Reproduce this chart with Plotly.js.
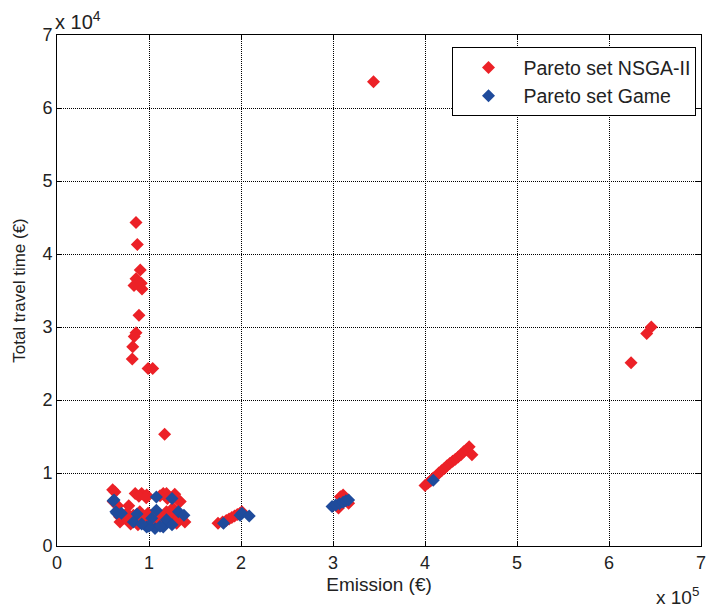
<!DOCTYPE html>
<html>
<head>
<meta charset="utf-8">
<script src="https://cdn.plot.ly/plotly-3.0.1.min.js"></script>
<style>html,body{margin:0;padding:0;background:#fff;}#chart{width:707px;height:612px;}</style>
</head>
<body>
<div id="chart"></div>
<script>
// Emission in units of 1e5 €, travel time in units of 1e4 €
const nsgaEmission = [3.44, 6.24, 6.41, 6.46,
  0.859, 0.873, 0.905, 0.859, 0.837, 0.916, 0.924, 0.891, 0.859, 0.84, 0.823, 0.818, 0.99, 1.04, 1.17,
  0.605, 0.63, 0.61, 0.85, 0.92, 0.975, 1.155, 1.19, 1.28, 1.34, 1.33,
  0.76, 0.90, 0.99, 1.10, 1.19, 1.27, 1.39, 0.685, 0.88, 1.30, 0.72, 0.80, 0.95, 1.02, 1.14, 1.22, 1.36, 0.66, 0.78, 1.05, 1.26,
  0.74, 0.83, 0.93, 1.00, 1.07, 1.16, 1.24, 1.33, 0.89, 0.97, 1.12, 1.20, 0.68, 1.31,
  1.75, 1.80, 1.84, 1.87, 1.90, 1.93, 1.96, 1.99, 2.01,
  3.06, 3.08, 3.11, 3.17,
  4.00, 4.03, 4.06, 4.09, 4.12, 4.15, 4.18, 4.21, 4.24, 4.27, 4.30, 4.33, 4.36, 4.39, 4.42, 4.45, 4.48, 4.51];
const nsgaTime = [6.36, 2.51, 2.91, 3.00,
  4.43, 4.13, 3.78, 3.66, 3.57, 3.60, 3.52, 3.16, 2.92, 2.87, 2.73, 2.56, 2.43, 2.43, 1.53,
  0.77, 0.74, 0.61, 0.72, 0.72, 0.70, 0.72, 0.72, 0.71, 0.61, 0.61,
  0.45, 0.47, 0.45, 0.40, 0.47, 0.40, 0.33, 0.33, 0.29, 0.31, 0.38, 0.30, 0.35, 0.32, 0.28, 0.36, 0.40, 0.55, 0.55, 0.30, 0.52,
  0.38, 0.42, 0.39, 0.36, 0.33, 0.42, 0.45, 0.40, 0.68, 0.66, 0.69, 0.65, 0.40, 0.35,
  0.31, 0.33, 0.35, 0.37, 0.39, 0.41, 0.43, 0.45, 0.47,
  0.52, 0.675, 0.70, 0.585,
  0.83, 0.86, 0.89, 0.93, 0.96, 1.00, 1.03, 1.06, 1.10, 1.13, 1.16, 1.19, 1.22, 1.25, 1.29, 1.32, 1.36, 1.25];

const gameEmission = [0.61, 0.62, 0.65, 0.64, 0.70, 0.87, 0.83, 1.08, 1.03, 1.32, 1.38, 0.975, 1.065, 1.155, 1.19, 1.25, 1.08, 1.25, 1.00, 1.12, 0.92,
  1.81, 1.99, 2.01, 2.09,
  2.99, 3.03, 3.07, 3.11, 3.14, 3.17,
  4.09];
const gameTime = [0.62, 0.63, 0.45, 0.47, 0.45, 0.44, 0.33, 0.49, 0.38, 0.47, 0.42, 0.26, 0.24, 0.26, 0.36, 0.29, 0.67, 0.65, 0.27, 0.27, 0.30,
  0.31, 0.42, 0.45, 0.41,
  0.54, 0.56, 0.58, 0.60, 0.62, 0.63,
  0.90];

const xTicks = [0, 1, 2, 3, 4, 5, 6, 7];
const yTicks = [0, 1, 2, 3, 4, 5, 6, 7];

const font = 'Liberation Sans, Arial, sans-serif';
const txtColor = '#222';
const traces = [
  {x: nsgaEmission, y: nsgaTime, type: 'scatter', mode: 'markers', name: 'Pareto set NSGA-II',
   marker: {symbol: 'diamond', size: 10, color: '#EC2127'}},
  {x: gameEmission, y: gameTime, type: 'scatter', mode: 'markers', name: 'Pareto set Game',
   marker: {symbol: 'diamond', size: 10, color: '#1F4B9C'}}
];

const axisCommon = {
  showline: true, linecolor: '#000', linewidth: 1, mirror: 'ticks',
  ticks: 'inside', ticklen: 5, tickcolor: '#000',
  showgrid: true, gridcolor: '#000', gridwidth: 1, griddash: '1px,1px',
  zeroline: false, tickfont: {family: font, size: 18, color: txtColor}
};

const layout = {
  width: 707, height: 612,
  margin: {l: 57, r: 6, t: 35, b: 66},
  paper_bgcolor: '#fff', plot_bgcolor: '#fff',
  showlegend: true,
  legend: {x: 0.993, y: 0.976, xanchor: 'right', yanchor: 'top', bgcolor: '#fff', itemwidth: 60,
           bordercolor: '#000', borderwidth: 1, font: {family: font, size: 19.5, color: txtColor}},
  xaxis: Object.assign({}, axisCommon, {range: [0, 7], tickvals: xTicks, ticktext: xTicks.map(String),
    title: {text: 'Emission (€)', font: {family: font, size: 19, color: txtColor}, standoff: 6}}),
  yaxis: Object.assign({}, axisCommon, {range: [0, 7], tickvals: yTicks, ticktext: yTicks.map(String),
    title: {text: 'Total travel time (€)', font: {family: font, size: 17, color: txtColor}, standoff: 12}}),
  annotations: [
    {xref: 'paper', yref: 'paper', x: 0, y: 1, xanchor: 'left', yanchor: 'bottom', yshift: 0, xshift: -4, showarrow: false,
     text: 'x 10<sup>4</sup>', font: {family: font, size: 20, color: txtColor}},
    {xref: 'paper', yref: 'paper', x: 1, y: 0, xanchor: 'right', yanchor: 'top', yshift: -36, showarrow: false,
     text: 'x 10<sup>5</sup>', font: {family: font, size: 19, color: txtColor}}
  ]
};

Plotly.newPlot('chart', traces, layout, {displayModeBar: false, staticPlot: true});
</script>
</body>
</html>
